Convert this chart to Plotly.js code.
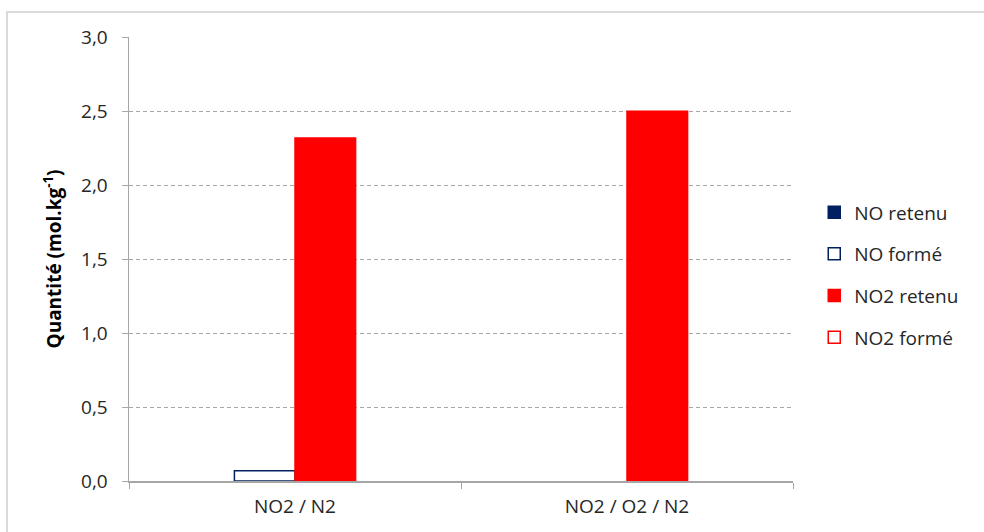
<!DOCTYPE html>
<html>
<head>
<meta charset="utf-8">
<script src="https://cdn.plot.ly/plotly-3.0.1.min.js"></script>
<style>
html,body{margin:0;padding:0;background:#fff;}
#wrap{position:relative;width:984px;height:532px;overflow:hidden;}
#chart{position:absolute;left:0;top:0;width:984px;height:532px;}
#frame{position:absolute;left:6px;top:11px;width:1000px;height:600px;border:2px solid #d9d9d9;pointer-events:none;box-sizing:border-box;}
</style>
</head>
<body>
<div id="wrap"><div id="chart"></div><div id="frame"></div></div>
<script>
const categories = ["NO2 / N2", "NO2 / O2 / N2"];
const noRetenu = [0, 0];
const noForme = [0.07, 0];
const no2Retenu = [2.32, 2.50];
const no2Forme = [0, 0];
const seriesNames = ["NO retenu", "NO formé", "NO2 retenu", "NO2 formé"];
const yTicks = [0, 0.5, 1.0, 1.5, 2.0, 2.5, 3.0];

const navy = "#002060";
const red = "#ff0000";
const font = "Open Sans, Noto Sans, sans-serif";

function bar(name, y, fill, line, group) {
  return {
    type: "bar", name: name, x: categories,
    // zero values are not drawn in the reference (no outline at the baseline)
    y: y.map(v => v === 0 ? null : v),
    marker: {color: fill, line: {color: line, width: 1.5}},
    legendgroup: group, hoverinfo: "skip"
  };
}

const data = [
  bar(seriesNames[0], noRetenu, navy, navy, "a"),
  bar(seriesNames[1], noForme, "#ffffff", navy, "b"),
  bar(seriesNames[2], no2Retenu, red, red, "c"),
  bar(seriesNames[3], no2Forme, "#ffffff", red, "d")
];

const layout = {
  width: 984, height: 532,
  margin: {l: 129, r: 191, t: 37, b: 51},
  paper_bgcolor: "#ffffff", plot_bgcolor: "#ffffff",
  barmode: "group", bargap: 0.27, bargroupgap: 0,
  separators: ", ",
  font: {family: font, size: 19, color: "#262626"},
  showlegend: true,
  legend: {
    x: 1.032, xanchor: "left", y: 0.648, yanchor: "top",
    traceorder: "grouped", tracegroupgap: 14,
    font: {family: font, size: 19, color: "#262626"},
    itemclick: false
  },
  xaxis: {
    type: "category",
    showline: true, linecolor: "#a6a6a6", linewidth: 1.5,
    ticks: "outside", tickson: "boundaries", ticklen: 6, tickcolor: "#a6a6a6",
    ticklabelstandoff: 8,
    tickfont: {family: font, size: 19, color: "#262626"},
    showgrid: false, zeroline: false
  },
  yaxis: {
    range: [0, 3.003], tickmode: "array", tickvals: yTicks, tickformat: ".1f",
    showline: true, linecolor: "#a6a6a6", linewidth: 1.5,
    ticks: "outside", ticklen: 6, tickcolor: "#a6a6a6",
    ticklabelstandoff: 10,
    tickfont: {family: font, size: 19, color: "#262626"},
    showgrid: true, gridcolor: "#a6a6a6", griddash: "4px,3px", gridwidth: 1,
    zeroline: false,
    title: {text: "<b>Quantité (mol.kg<sup>-1</sup>)</b>", standoff: 14,
            font: {family: font, size: 19, color: "#000000"}}
  }
};

Plotly.newPlot("chart", data, layout, {displayModeBar: false, staticPlot: true});
</script>
</body>
</html>
